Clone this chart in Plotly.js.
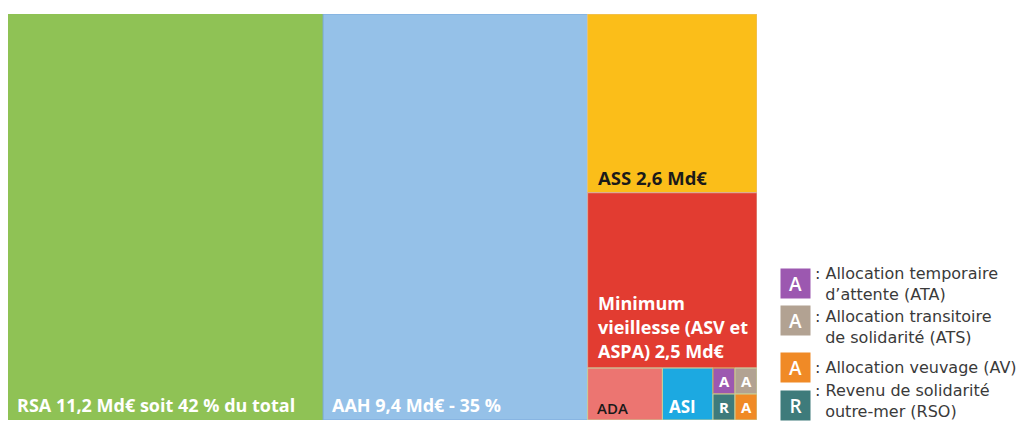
<!DOCTYPE html>
<html><head><meta charset="utf-8">
<script src="https://cdn.plot.ly/plotly-3.0.1.min.js"></script>
<style>html,body{margin:0;padding:0;background:#fff}#chart{width:1021px;height:423px}</style>
</head><body><div id="chart"></div>
<script>
// ---- data ----
const categories = ['RSA','AAH','ASS','ASV','ADA','ASI','ATA','ATS','RSO','AV'];
const values = [11.2, 9.4, 2.65, 2.6, 0.34, 0.23, 0.05, 0.05, 0.05, 0.05];
const cellLabels = ['RSA 11,2 Md€ soit 42 % du total', 'AAH 9,4 Md€ - 35 %', 'ASS 2,6 Md€',
  'Minimum<br>vieillesse (ASV et<br>ASPA) 2,5 Md€', 'ADA', 'ASI', 'A', 'A', 'R', 'A'];
const legendCodes = ['ATA','ATS','AV','RSO'];
const legendLetters = ['A','A','A','R'];
const legendLine1 = [': Allocation temporaire', ': Allocation transitoire', ': Allocation veuvage (AV)', ': Revenu de solidarité'];
const legendLine2 = ['d’attente (ATA)', 'de solidarité (ATS)', '', 'outre-mer (RSO)'];

// ---- styles ----
const colors = {RSA:'#8fc255', AAH:'#95c1e8', ASS:'#fbbe19', ASV:'#e23c31', ADA:'#ec7571',
  ASI:'#1ca9e1', ATA:'#9c58b0', ATS:'#b2a292', RSO:'#3e7b7b', AV:'#f08a26'};
const lineColors = {RSA:'#8fc255', AAH:'#7aa9dc', ASS:'#e9c27a', ASV:'#d9b0a0', ADA:'#c8cf9a',
  ASI:'#c8cf9a', ATA:'#d9a650', ATS:'#c8cf9a', RSO:'#c8cf9a', AV:'#c8cf9a'};
const FONT = 'Open Sans, Lato, sans-serif';
const LEGEND_FONT = 'DejaVu Sans, Open Sans, sans-serif';

// ---- treemap-like layout computed from values ----
const v = n => values[categories.indexOf(n)];
const sum = arr => arr.reduce((a,b)=>a+b,0);
const total = sum(values);
const colNames = ['ASS','ASV','ADA','ASI','ATA','ATS','RSO','AV'];
const colSum = sum(colNames.map(v));
const bottomSum = sum(['ADA','ASI','ATA','ATS','RSO','AV'].map(v));
const smallSum = sum(['ATA','ATS','RSO','AV'].map(v));
const rects = {};
rects.RSA = {x0:0, w:v('RSA'), y0:0, h:1};
rects.AAH = {x0:v('RSA'), w:v('AAH'), y0:0, h:1};
const cx0 = v('RSA') + v('AAH');
const hASS = v('ASS')/colSum, hASV = v('ASV')/colSum, hB = bottomSum/colSum;
rects.ASS = {x0:cx0, w:colSum, y0:1-hASS, h:hASS};
rects.ASV = {x0:cx0, w:colSum, y0:1-hASS-hASV, h:hASV};
let bx = cx0;
['ADA','ASI'].forEach(n => { const w = v(n)/bottomSum*colSum; rects[n] = {x0:bx, w:w, y0:0, h:hB}; bx += w; });
const smallW = smallSum/bottomSum*colSum;
const rowTop = v('ATA')+v('ATS'), rowBot = v('RSO')+v('AV');
const hTop = hB*rowTop/smallSum, hBot = hB*rowBot/smallSum;
let sx = bx;
['ATA','ATS'].forEach(n => { const w = v(n)/rowTop*smallW; rects[n] = {x0:sx, w:w, y0:hBot, h:hTop}; sx += w; });
sx = bx;
['RSO','AV'].forEach(n => { const w = v(n)/rowBot*smallW; rects[n] = {x0:sx, w:w, y0:0, h:hBot}; sx += w; });

const trace = {
  type:'bar', orientation:'v',
  x: categories.map(n => rects[n].x0 + rects[n].w/2),
  width: categories.map(n => rects[n].w),
  base: categories.map(n => rects[n].y0),
  y: categories.map(n => rects[n].h),
  marker:{color: categories.map(n => colors[n]), line:{color: categories.map(n => lineColors[n]), width:1}},
  text: categories, textposition:'none',
  hovertemplate:'%{text}<extra></extra>'
};

const annotations = [];
function ann(o){ annotations.push(Object.assign({showarrow:false, xref:'x', yref:'y'}, o)); }
const lbl = n => cellLabels[categories.indexOf(n)];
const big = (color, size) => ({family:FONT, size:size||18, color:color, weight:700});
ann({x:rects.RSA.x0, y:0, xanchor:'left', yanchor:'middle', xshift:7, yshift:15, text:lbl('RSA'), font:big('#ffffff')});
ann({x:rects.AAH.x0, y:0, xanchor:'left', yanchor:'middle', xshift:7, yshift:15, text:lbl('AAH'), font:big('#ffffff')});
ann({x:rects.ASS.x0, y:rects.ASS.y0, xanchor:'left', yanchor:'middle', xshift:8, yshift:15, text:lbl('ASS'), font:big('#1a1a1a', 18.5)});
lbl('ASV').split('<br>').forEach((t,i) => {
  ann({x:rects.ASV.x0, y:rects.ASV.y0, xanchor:'left', yanchor:'middle', xshift:8, yshift:65-24*i, text:t, font:big('#ffffff', 18)});
});
ann({x:rects.ADA.x0, y:0, xanchor:'left', yanchor:'middle', xshift:7, yshift:12, text:lbl('ADA'), font:{family:FONT, size:15, color:'#1a1a1a', weight:600}});
ann({x:rects.ASI.x0, y:0, xanchor:'left', yanchor:'middle', xshift:5, yshift:14, text:lbl('ASI'), font:{family:FONT, size:17, color:'#ffffff', weight:700}});
['ATA','ATS','RSO','AV'].forEach(n => {
  ann({x:rects[n].x0 + rects[n].w/2, y:rects[n].y0 + rects[n].h/2, xanchor:'center', yanchor:'middle', text:lbl(n), font:{family:FONT, size:15, color:'#ffffff', weight:700}});
});

// legend built from annotations (pixel -> paper)
const M = {l:8, r:264, t:14, b:3};
const PW = 1021 - M.l - M.r, PH = 423 - M.t - M.b;
const px = p => (p - M.l)/PW;
const py = p => (423 - M.b - p)/PH;
const sqY = [283, 320, 367, 405];
const txtY = [283.5, 327, 367, 401];
legendCodes.forEach((c,i) => {
  annotations.push({xref:'paper', yref:'paper', x:px(795), y:py(sqY[i]), xanchor:'center', yanchor:'middle',
    showarrow:false, text:legendLetters[i], bgcolor:colors[c], width:29, height:29, borderpad:0,
    font:{family:FONT, size:19, color:'#ffffff', weight:600}});
  const txt = legendLine1[i] + (legendLine2[i] ? '<br>\u00a0\u00a0' + legendLine2[i] : '');
  annotations.push({xref:'paper', yref:'paper', x:px(814), y:py(txtY[i]), xanchor:'left', yanchor:'middle', align:'left',
    showarrow:false, text:txt, borderpad:0, font:{family:LEGEND_FONT, size:16, color:'#3a3a3a'}});
});

const layout = {
  width:1021, height:423, margin:M, paper_bgcolor:'#ffffff', plot_bgcolor:'#ffffff',
  showlegend:false, barmode:'overlay', bargap:0,
  xaxis:{range:[0,total], visible:false, fixedrange:true},
  yaxis:{range:[0,1], visible:false, fixedrange:true},
  annotations:annotations
};
Plotly.newPlot('chart', [trace], layout, {displayModeBar:false, staticPlot:true});
</script>
</body></html>
